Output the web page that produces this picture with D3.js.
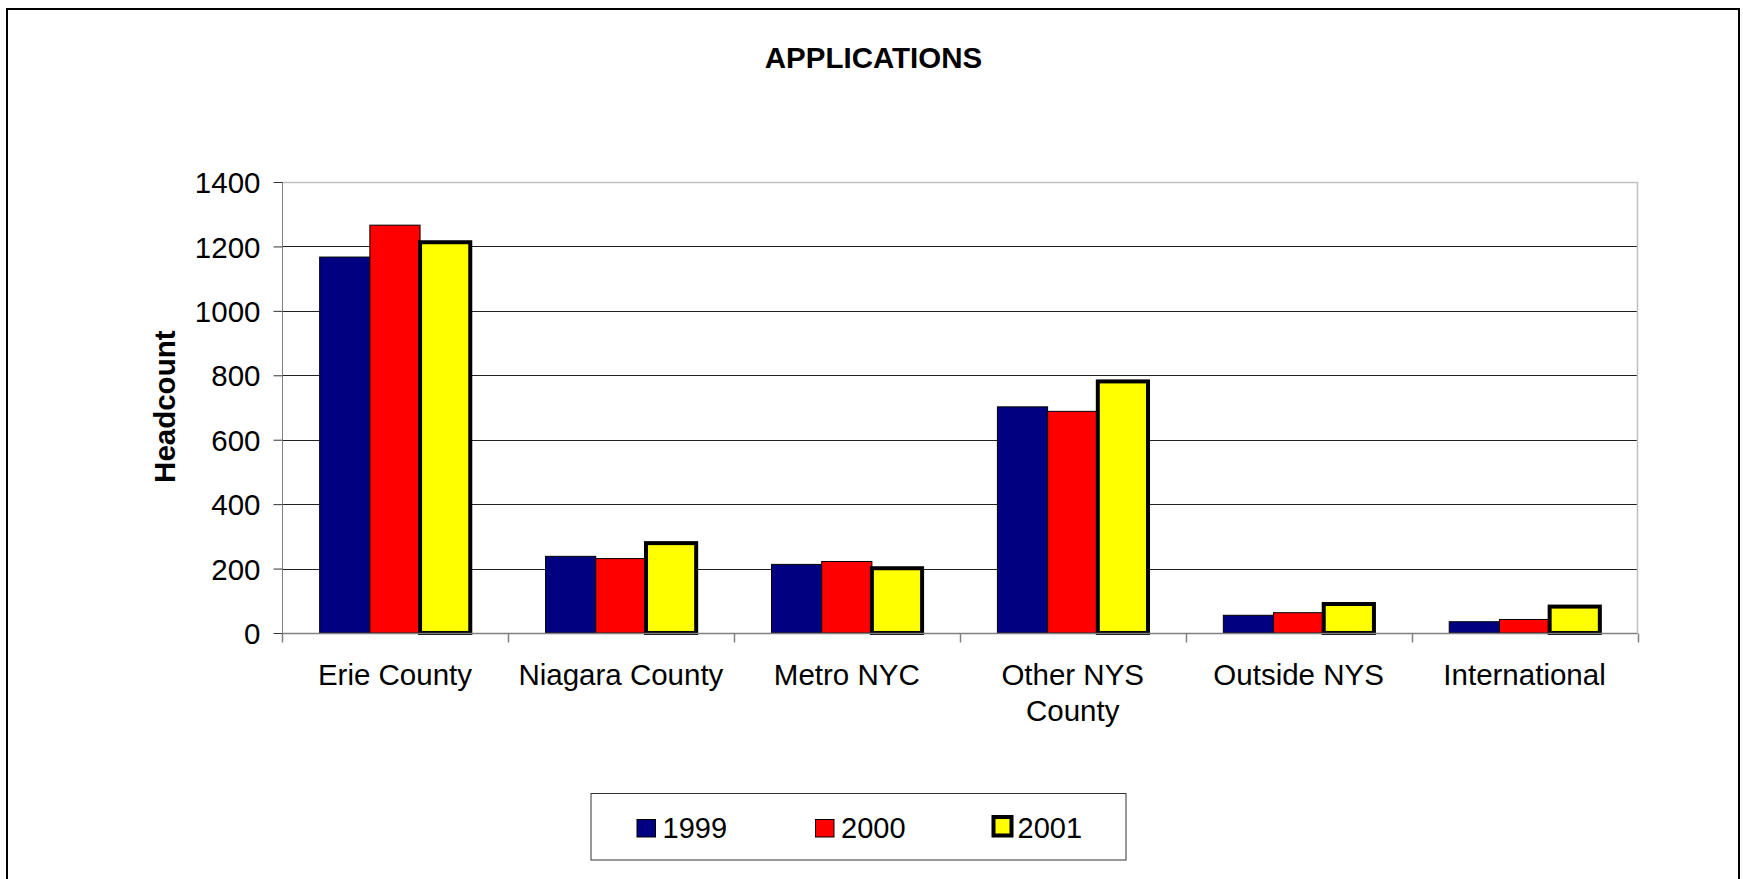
<!DOCTYPE html>
<html>
<head>
<meta charset="utf-8">
<script src="https://cdn.jsdelivr.net/npm/d3@7"></script>
<style>
  html, body { margin: 0; padding: 0; background: #fff; }
  svg { display: block; }
  text { font-family: "Liberation Sans", Arial, sans-serif; fill: #000; }
</style>
</head>
<body>
<svg id="chart" width="1743" height="879"></svg>
<script>
const title = "APPLICATIONS";
const yTitle = "Headcount";
const categories = ["Erie County", "Niagara County", "Metro NYC", "Other NYS County", "Outside NYS", "International"];
const categoryLines = [["Erie County"], ["Niagara County"], ["Metro NYC"], ["Other NYS", "County"], ["Outside NYS"], ["International"]];
const seriesNames = ["1999", "2000", "2001"];
const values1999 = [1167, 238, 213, 702, 55, 35];
const values2000 = [1266, 231, 222, 688, 63, 42];
const values2001 = [1213, 279, 201, 781, 90, 82];
const yTicks = [0, 200, 400, 600, 800, 1000, 1200, 1400];
const seriesColors = ["#000080", "#ff0000", "#ffff00"];
const seriesStroke = [1, 1, 4];

const seriesValues = [values1999, values2000, values2001];

const svg = d3.select("#chart");

// Outer frame
svg.append("rect")
  .attr("x", 7).attr("y", 9).attr("width", 1732).attr("height", 900)
  .attr("fill", "none").attr("stroke", "#000").attr("stroke-width", 2);

const pLeft = 282, pRight = 1637.5, pTop = 182, pBottom = 633;

const x = d3.scaleBand().domain(categories).range([pLeft, pRight]).paddingInner(0).paddingOuter(0);
const bw = x.bandwidth();
const x1 = d3.scaleBand().domain(seriesNames).range([bw / 6, bw * 5 / 6]).padding(0);
const y = d3.scaleLinear().domain([0, 1400]).range([pBottom, pTop]);

// Gridlines
svg.append("g").selectAll("line")
  .data(yTicks.filter(t => t > 0 && t < 1400))
  .join("line")
  .attr("x1", pLeft).attr("x2", pRight)
  .attr("y1", d => Math.round(y(d)) + 0.5).attr("y2", d => Math.round(y(d)) + 0.5)
  .attr("stroke", "#222").attr("stroke-width", 1);

// Plot area border (top & right)
svg.append("path")
  .attr("d", `M${pLeft},${pTop + 0.5}H${pRight}V${pBottom}`)
  .attr("fill", "none").attr("stroke", "#c0c0c0").attr("stroke-width", 1.5);

// Bars
const groups = svg.append("g").selectAll("g")
  .data(seriesNames)
  .join("g");

groups.each(function(s, si) {
  d3.select(this).selectAll("rect")
    .data(categories.map((c, i) => ({ c, v: seriesValues[si][i] })))
    .join("rect")
    .attr("x", d => x(d.c) + x1(s))
    .attr("y", d => y(d.v))
    .attr("width", x1.bandwidth())
    .attr("height", d => y(0) - y(d.v))
    .attr("fill", seriesColors[si])
    .attr("stroke", "#000")
    .attr("stroke-width", seriesStroke[si]);
});

// Y axis
const yAxis = d3.axisLeft(y).tickValues(yTicks).tickSize(9).tickPadding(13).tickFormat(d3.format("d"));
const gy = svg.append("g").attr("transform", `translate(${pLeft + 0.5},0)`).call(yAxis);
gy.select(".domain").attr("stroke", "#808080").attr("d", `M0,${pTop}V${pBottom + 9}`);
gy.selectAll(".tick line").attr("stroke", "#333");
gy.selectAll(".tick text").attr("font-size", 29.5).attr("font-family", "Liberation Sans, Arial, sans-serif").attr("fill", "#000").attr("dy", "0.36em");

// X axis line + ticks
const gx = svg.append("g").attr("transform", `translate(0,${pBottom + 0.5})`);
gx.append("line").attr("x1", pLeft).attr("x2", pRight).attr("y1", 0).attr("y2", 0).attr("stroke", "#808080").attr("stroke-width", 1.5);
const boundaries = categories.map(c => x(c)).concat([x(categories[categories.length - 1]) + bw]);
gx.selectAll("line.tk").data(boundaries).join("line").attr("class", "tk")
  .attr("x1", d => Math.round(d) + 0.5).attr("x2", d => Math.round(d) + 0.5)
  .attr("y1", 0).attr("y2", 9).attr("stroke", "#808080").attr("stroke-width", 1.5);

// Category labels
const lab = svg.append("g").selectAll("text")
  .data(categories)
  .join("text")
  .attr("x", d => x(d) + bw / 2)
  .attr("y", 685)
  .attr("text-anchor", "middle")
  .attr("font-size", 29.5);
lab.each(function(d, i) {
  const t = d3.select(this);
  categoryLines[i].forEach((ln, li) => {
    t.append("tspan").attr("x", x(d) + bw / 2).attr("dy", li === 0 ? 0 : 36).text(ln);
  });
});

// Title
svg.append("text").attr("x", 873.5).attr("y", 68).attr("text-anchor", "middle")
  .attr("font-size", 29.5).attr("font-weight", "bold").text(title);

// Y title
svg.append("text").attr("transform", "translate(175,406.7) rotate(-90)")
  .attr("text-anchor", "middle").attr("font-size", 29.5).attr("font-weight", "bold").text(yTitle);

// Legend
const legend = svg.append("g");
legend.append("rect").attr("x", 591).attr("y", 793.5).attr("width", 535).attr("height", 66.5)
  .attr("fill", "#fff").attr("stroke", "#333").attr("stroke-width", 1);
const legendX = [636.5, 815, 991.5];
seriesNames.forEach((s, i) => {
  const sw = seriesStroke[i];
  if (sw > 1) {
    legend.append("rect")
      .attr("x", legendX[i] + 2).attr("y", 817)
      .attr("width", 18).attr("height", 18.5)
      .attr("fill", seriesColors[i]).attr("stroke", "#000").attr("stroke-width", 4);
  } else {
    legend.append("rect")
      .attr("x", legendX[i] + 0.5).attr("y", 819.5)
      .attr("width", 18.5).attr("height", 17.5)
      .attr("fill", seriesColors[i]).attr("stroke", "#000").attr("stroke-width", 1);
  }
  legend.append("text").attr("x", legendX[i] + (sw > 1 ? 26 : 26)).attr("y", 837.5)
    .attr("font-size", 29).text(s);
});
</script>
</body>
</html>
